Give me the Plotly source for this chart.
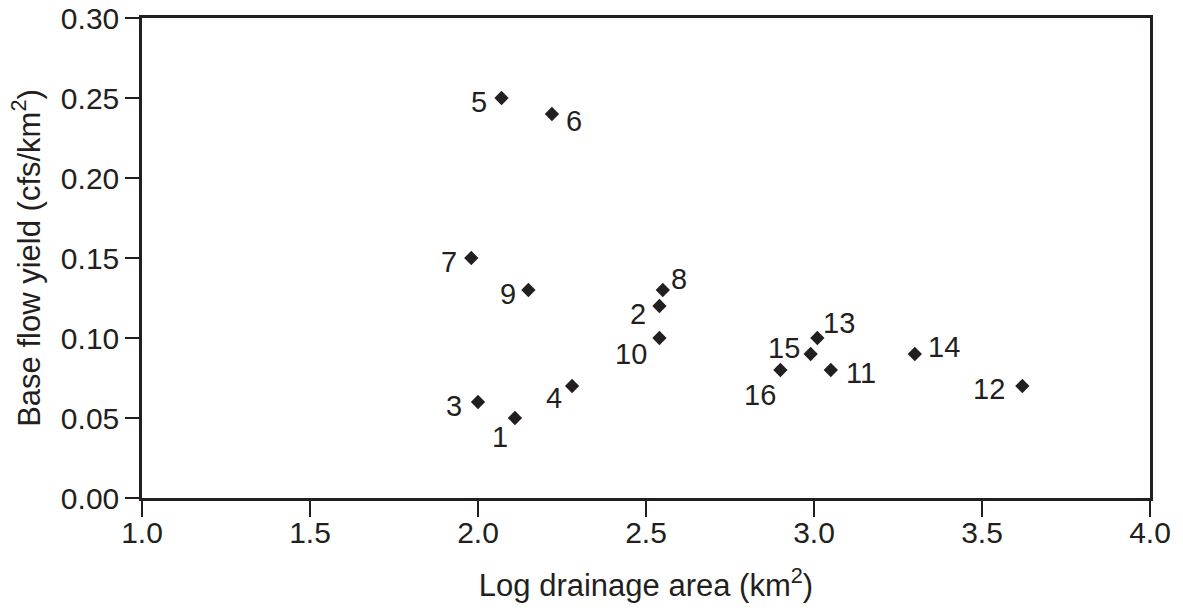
import plotly.graph_objects as go

# Stream gauges: log10 drainage area (km^2) vs. base flow yield (cfs/km^2)
site_ids = ["1", "2", "3", "4", "5", "6", "7", "8",
            "9", "10", "11", "12", "13", "14", "15", "16"]
log_area = [2.11, 2.54, 2.00, 2.28, 2.07, 2.22, 1.98, 2.55,
            2.15, 2.54, 3.05, 3.62, 3.01, 3.30, 2.99, 2.90]
base_flow_yield = [0.05, 0.12, 0.06, 0.07, 0.25, 0.24, 0.15, 0.13,
                   0.13, 0.10, 0.08, 0.07, 0.10, 0.09, 0.09, 0.08]

# Pixel offset of each site label from its marker (dx right, dy down)
label_offset = {
    "1": (-15, 19), "2": (-21, 8), "3": (-24, 4), "4": (-18, 12),
    "5": (-23, 4), "6": (22, 7), "7": (-22, 4), "8": (16, -11),
    "9": (-20, 4), "10": (-28, 16), "11": (30, 3), "12": (-33, 3),
    "13": (22, -15), "14": (29, -7), "15": (-27, -6), "16": (-20, 25),
}

INK = "#231f20"
FONT = "Liberation Sans, Arial, Helvetica, sans-serif"

fig = go.Figure()
fig.add_trace(go.Scatter(
    x=log_area, y=base_flow_yield, mode="markers",
    marker=dict(symbol="diamond", size=11, color=INK, line=dict(width=0)),
    showlegend=False, hoverinfo="x+y",
))

for sid, xv, yv in zip(site_ids, log_area, base_flow_yield):
    dx, dy = label_offset[sid]
    fig.add_annotation(
        x=xv, y=yv, text=sid, showarrow=False,
        xanchor="center", yanchor="middle",
        xshift=dx, yshift=-dy,
        font=dict(family=FONT, size=29, color=INK),
    )

axis_common = dict(
    showline=True, linecolor=INK, linewidth=2.5, mirror=True,
    ticks="outside", tickcolor=INK, tickwidth=1.5,
    showgrid=False, zeroline=False, automargin=False,
    tickfont=dict(family=FONT, size=30, color=INK),
    title_font=dict(family=FONT, size=31, color=INK),
)

fig.update_xaxes(
    range=[1.0, 4.0], tickvals=[1.0, 1.5, 2.0, 2.5, 3.0, 3.5, 4.0],
    ticktext=["1.0", "1.5", "2.0", "2.5", "3.0", "3.5", "4.0"],
    ticklen=16, ticklabelstandoff=-10,
    title_text="Log drainage area (km<sup>2</sup>)",
    title_standoff=27, **axis_common,
)
fig.update_yaxes(
    range=[0.0, 0.30], tickvals=[0.0, 0.05, 0.10, 0.15, 0.20, 0.25, 0.30],
    ticktext=["0.00", "0.05", "0.10", "0.15", "0.20", "0.25", "0.30"],
    ticklen=14, title_text="Base flow yield (cfs/km<sup>2</sup>)",
    title_standoff=12, **axis_common,
)

fig.update_layout(
    width=1183, height=611,
    margin=dict(l=142, r=33, t=18, b=113),
    paper_bgcolor="white", plot_bgcolor="white",
    font=dict(family=FONT, color=INK),
)

fig.write_html("out.html")
